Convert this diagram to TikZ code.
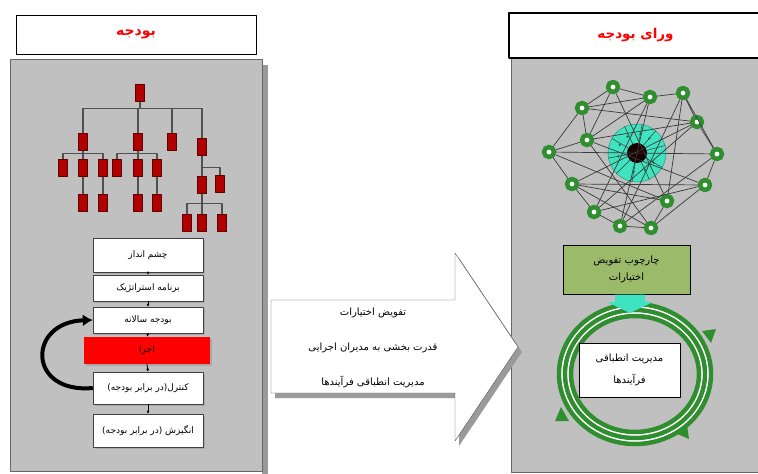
\documentclass[tikz,border=0pt]{standalone}
\usepackage{fontspec}
\newfontfamily\arabicfont[Script=Arabic]{DejaVu Sans}
\TeXXeTstate=1
\usetikzlibrary{arrows.meta,shadows}

\definecolor{panelgray}{HTML}{C0C0C0}
\definecolor{shadegray}{HTML}{9A9A9A}
\definecolor{orgred}{HTML}{B00000}
\definecolor{orgline}{HTML}{505050}
\definecolor{execred}{HTML}{FF0000}
\definecolor{titlered}{HTML}{FF0000}
\definecolor{ringgreen}{HTML}{2F8F2F}
\definecolor{hubteal}{HTML}{3FE3C0}
\definecolor{framegreen}{HTML}{9BBB6A}
\definecolor{netline}{HTML}{3A3A3A}

\tikzset{
  titlebox/.style={rectangle, draw=black, fill=white, text=titlered,
    font=\arabicfont\bfseries\fontsize{14}{16}\selectfont},
  orgbox/.style={rectangle, fill=orgred, draw=orgred!55!black,
    minimum width=9pt, minimum height=17pt, inner sep=0pt},
  flowbox/.style={rectangle, draw=black!75, fill=white, minimum width=110pt,
    inner sep=1pt, font=\arabicfont\fontsize{9}{10}\selectfont,
    drop shadow={shadow xshift=1.5pt, shadow yshift=-2pt, opacity=.35}},
  ringnode/.style={circle, draw=ringgreen, line width=4.5pt, fill=white,
    minimum size=10pt, inner sep=0pt},
  textbox/.style={rectangle, draw=black, align=center,
    font=\arabicfont\fontsize{10}{22}\selectfont}
}

\begin{document}
\begin{tikzpicture}[line cap=round,line join=round,x=1pt,y=-1pt]
\useasboundingbox (0,0) rectangle (758,474);

% left panel
\fill [shadegray] (262,65) rectangle (268,474);
\draw [draw=black!60, fill=panelgray] (10,59) rectangle (262,471);
\node [titlebox, minimum width=240pt, minimum height=39pt] (tbud) at (136,34.5) {\beginR بودجه\endR};

% org chart
\node [orgbox] (root) at (140,93) {};
\node [orgbox] (a1) at (83,142) {};
\node [orgbox] (a2) at (138,142) {};
\node [orgbox] (a3) at (172,142) {};
\node [orgbox] (a4) at (202,147) {};
\node [orgbox] (b1) at (63,168) {};
\node [orgbox] (b2) at (83,168) {};
\node [orgbox] (b3) at (103,168) {};
\node [orgbox] (b4) at (117,168) {};
\node [orgbox] (b5) at (138,168) {};
\node [orgbox] (b6) at (157,168) {};
\node [orgbox] (c1) at (83,203) {};
\node [orgbox] (c2) at (103,203) {};
\node [orgbox] (c3) at (138,203) {};
\node [orgbox] (c4) at (157,203) {};
\node [orgbox] (d1) at (202,185) {};
\node [orgbox] (d2) at (220,184) {};
\node [orgbox] (e1) at (187,223) {};
\node [orgbox] (e2) at (202,223) {};
\node [orgbox] (e3) at (222,223) {};

\foreach \p/\c/\d in {root/a1/6.5, root/a2/6.5, root/a3/6.5, root/a4/6.5,
    a1/b1/2.5, a1/b2/2.5, a1/b3/2.5, a2/b4/2.5, a2/b5/2.5, a2/b6/2.5,
    b2/c1/8, b3/c2/8, b5/c3/8, b6/c4/8,
    a4/d1/11.5, a4/d2/11.5, d1/e1/9.5, d1/e2/9.5, d1/e3/9.5}
  \draw [orgline, line width=1.2pt, line cap=butt] (\p.south) -- ++(0,\d) -| (\c.north);

% flow
\node [flowbox, minimum height=34pt] (vis) at (148,255) {\beginR چشم انداز\endR};
\node [flowbox, minimum height=26pt] (strat) at (148,288) {\beginR برنامه استراتژیک\endR};
\node [flowbox, minimum height=26pt] (annual) at (148,320) {\beginR بودجه سالانه\endR};
\node [flowbox, draw=none, fill=execred, minimum width=126pt, minimum height=27pt] (exec) at (147,350.5) {\beginR اجرا\endR};
\node [flowbox, minimum height=32pt] (ctrl) at (148,388) {\beginR کنترل(در برابر بودجه)\endR};
\node [flowbox, minimum height=33pt] (motiv) at (148,430.5) {\beginR انگیزش (در برابر بودجه)\endR};

\foreach \a/\b in {vis/strat, strat/annual, annual/exec, exec/ctrl, ctrl/motiv}
  \draw [-{Latex[length=3pt,width=3pt]}, line width=0.8pt] (\a.south) -- (\b.north);

\draw [line width=4pt, line cap=butt, -{Latex[length=10pt,width=12pt]}]
  (ctrl.west) .. controls (27,394) and (27,322) .. (annual.west);

% right panel
\draw [draw=black!60, fill=panelgray] (511,58) rectangle (762,472);
\node [titlebox, line width=1.5pt, minimum width=253pt, minimum height=45pt, font=\arabicfont\bfseries\fontsize{13.5}{16}\selectfont] (tbey) at (635.5,35.5) {\beginR ورای بودجه\endR};

% middle arrow
\fill [shadegray] (275,305) -- (459,305) -- (459,258) -- (522,352) -- (459,446) -- (459,398) -- (275,398) -- cycle;
\draw [draw=black!70, fill=white] (271,300) -- (455,300) -- (455,253) -- (518,347) -- (455,441) -- (455,393) -- (271,393) -- cycle;
\node [font=\arabicfont\fontsize{10}{12}\selectfont] (m1) at (373,313) {\beginR تفویض اختیارات\endR};
\node [font=\arabicfont\fontsize{10}{12}\selectfont] (m2) at (373,348) {\beginR قدرت بخشی به مدیران اجرایی\endR};
\node [font=\arabicfont\fontsize{10}{12}\selectfont] (m3) at (373,382) {\beginR مدیریت انطباقی فرآیندها\endR};

% network
\node [circle, fill=hubteal, draw=hubteal!60!black, line width=0.4pt, minimum size=58pt, inner sep=0pt] (hub) at (637,153) {};
\node [circle, fill=black!90!red, minimum size=20pt, inner sep=0pt] (core) at (637,153) {};

\node [ringnode] (n1) at (613,87) {};
\node [ringnode] (n2) at (650,97) {};
\node [ringnode] (n3) at (683,93) {};
\node [ringnode] (n4) at (582,108) {};
\node [ringnode] (n5) at (697,122) {};
\node [ringnode] (n6) at (587,140) {};
\node [ringnode] (n7) at (549,152) {};
\node [ringnode] (n8) at (717,154) {};
\node [ringnode] (n9) at (572,184) {};
\node [ringnode] (n10) at (705,185) {};
\node [ringnode] (n11) at (667,201) {};
\node [ringnode] (n12) at (594,212) {};
\node [ringnode] (n13) at (620,226) {};
\node [ringnode] (n14) at (651,228) {};

\foreach \a/\b in {1/2, 2/3, 3/5, 5/8, 8/10, 10/14, 14/13, 13/12, 12/9, 9/7, 7/4, 4/1,
    4/2, 4/5, 1/11, 2/12, 2/13, 2/6, 3/11, 3/13, 5/6, 5/9, 5/12, 6/7, 6/14,
    6/10, 6/1, 7/8, 7/11, 9/10, 9/14, 9/11, 12/10, 8/13, 11/14, 4/6, 3/8}
  \draw [netline, line width=0.7pt] (n\a) -- (n\b);

\foreach \t in {15,50,80,115,150,190,225,260,295,330}
  \draw [netline, line width=0.5pt] (core.\t) -- (hub.\t);
\foreach \t in {30,100,170,240,310,65,205,280}
  \fill [black!55!hubteal] (hub.center) ++(\t:19) circle (1.3pt);

% cycle
\foreach \r/\s in {76/70, 70/64, 64/58}
  \draw [ringgreen, line width=4.5pt] (635,374) ellipse ({\r} and {\s});
\foreach \r/\s in {73/67, 67/61}
  \draw [white, line width=1.2pt] (635,374) ellipse ({\r} and {\s});
\fill [ringgreen] (702,331) -- (716,329) -- (711,343) -- cycle;
\fill [ringgreen] (555,421) -- (569,421) -- (561,407) -- cycle;
\fill [ringgreen] (687,425) -- (689,439) -- (675,433) -- cycle;

\node [rectangle, draw=black, fill=framegreen, minimum width=127pt, minimum height=49pt, align=center,
  font=\arabicfont\fontsize{10}{17}\selectfont] (frame) at (626.5,269.5) {\beginR چارچوب تفویض\endR\\\beginR اختیارات\endR};
\fill [hubteal] (615,294.5) -- (645,294.5) -- (645,302) -- (653,302) -- (630,313) -- (607,302) -- (615,302) -- cycle;

\node [textbox, fill=white, minimum width=101pt, minimum height=54pt] (adapt) at (629.5,370) {\beginR مدیریت انطباقی\endR\\\beginR فرآیندها\endR};
\end{tikzpicture}
\end{document}
